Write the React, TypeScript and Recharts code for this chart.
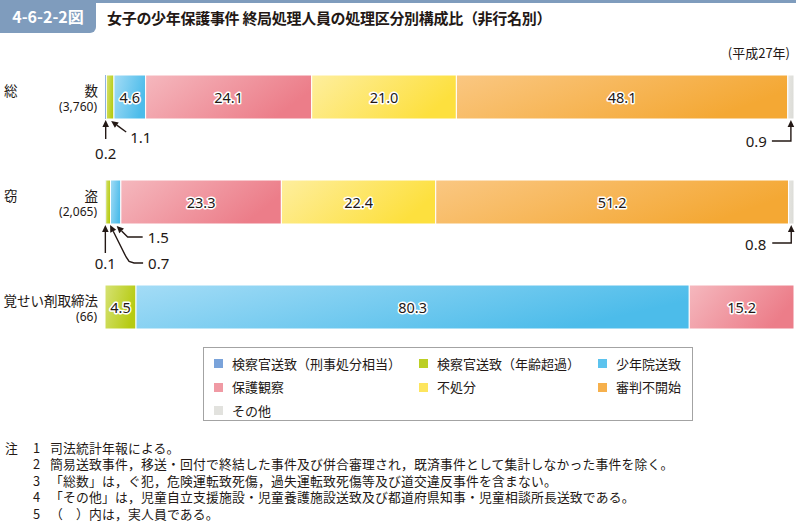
import { BarChart, Bar, XAxis, YAxis, LabelList } from 'recharts';

// rows (non-offence types) and headcounts shown in brackets
const categories = ['総数', '窃盗', '覚せい剤取締法'];
const headcounts = ['3,760', '2,065', '66'];

// composition ratios (%) per disposition, same order as categories
const keiji = [0.2, 0.1, 0];
const nenrei = [1.1, 0.7, 4.5];
const shonenin = [4.6, 1.5, 80.3];
const hogo = [24.1, 23.3, 15.2];
const fushobun = [21.0, 22.4, 0];
const fukaishi = [48.1, 51.2, 0];
const other = [0.9, 0.8, 0];

const notes = [
  '司法統計年報による。',
  '簡易送致事件，移送・回付で終結した事件及び併合審理され，既済事件として集計しなかった事件を除く。',
  '「総数」は，ぐ犯，危険運転致死傷，過失運転致死傷等及び道交違反事件を含まない。',
  '「その他」は，児童自立支援施設・児童養護施設送致及び都道府県知事・児童相談所長送致である。',
  '（　）内は，実人員である。',
];

const series = [
  { key: 'keiji', name: '検察官送致（刑事処分相当）', from: '#8db4e2', to: '#6e9bd6', swatch: '#7aa3da' },
  { key: 'nenrei', name: '検察官送致（年齢超過）', from: '#d6e274', to: '#b6cb12', swatch: '#bccf24' },
  { key: 'shonenin', name: '少年院送致', from: '#a4dcf6', to: '#4cbcea', swatch: '#5cc3ee' },
  { key: 'hogo', name: '保護観察', from: '#f5b8be', to: '#ec7d89', swatch: '#f09aa4' },
  { key: 'fushobun', name: '不処分', from: '#feee9e', to: '#fde03e', swatch: '#fde55e' },
  { key: 'fukaishi', name: '審判不開始', from: '#fac782', to: '#f4a834', swatch: '#f6b04c' },
  { key: 'other', name: 'その他', from: '#e6e6e2', to: '#dcdcd7', swatch: '#e2e2de' },
];

const values: Record<string, number[]> = { keiji, nenrei, shonenin, hogo, fushobun, fukaishi, other };

const data = categories.map((name, i) => {
  const row: Record<string, string | number> = { name };
  series.forEach((s) => (row[s.key] = values[s.key][i]));
  return row;
});

// callouts for the thin segments: points relative to (segment centre, bar bottom), tail -> tip
type Callout = { row: number; key: string; path: number[][]; text: [number, number, 'start' | 'middle' | 'end'] };
const callouts: Callout[] = [
  { row: 0, key: 'keiji', path: [[0, 20], [0, 1]], text: [0, 34, 'middle'] },
  { row: 0, key: 'nenrei', path: [[16, 13], [1, 2]], text: [20, 18, 'start'] },
  { row: 0, key: 'other', path: [[-19, 22], [0, 22], [0, 1]], text: [-24, 21.5, 'end'] },
  { row: 1, key: 'keiji', path: [[0, 29], [0, 1]], text: [0, 39, 'middle'] },
  { row: 1, key: 'nenrei', path: [[35, 39], [26, 39], [21, 37.5], [18, 33], [2, 1]], text: [40, 39, 'start'] },
  { row: 1, key: 'shonenin', path: [[27, 13], [12, 13], [1, 2]], text: [32, 13, 'start'] },
  { row: 1, key: 'other', path: [[-19, 19], [0, 19], [0, 1]], text: [-25, 20, 'end'] },
];

const INK = '#231815';
const JP = '"Noto Sans CJK JP", "Noto Sans", sans-serif';
const NUM = '"Noto Sans", "Open Sans", sans-serif';

function ArrowPath({ pts }: { pts: number[][] }) {
  const [tx, ty] = pts[pts.length - 1];
  const [px, py] = pts[pts.length - 2];
  const len = Math.hypot(tx - px, ty - py) || 1;
  const ux = (tx - px) / len;
  const uy = (ty - py) / len;
  const bx = tx - ux * 7;
  const by = ty - uy * 7;
  const line = [...pts.slice(0, -1), [bx, by]].map((p, i) => `${i ? 'L' : 'M'}${p[0]},${p[1]}`).join(' ');
  return (
    <g>
      <path d={line} fill="none" stroke={INK} strokeWidth={1.4} />
      <polygon points={`${tx},${ty} ${bx - uy * 3.3},${by + ux * 3.3} ${bx + uy * 3.3},${by - ux * 3.3}`} fill={INK} />
    </g>
  );
}

function segmentLabel(props: any, key: string) {
  const x = Number(props.x);
  const y = Number(props.y);
  const w = Number(props.width);
  const h = Number(props.height);
  const value = Number(props.value);
  const index = props.index;
  if (!value) return null;
  const cx = x + w / 2;
  const b = y + h;
  const c = callouts.find((o) => o.row === index && o.key === key);
  if (c) {
    const pts = c.path.map(([dx, dy]) => [cx + dx, b + dy]);
    return (
      <g>
        <ArrowPath pts={pts} />
        <text
          x={cx + c.text[0]}
          y={b + c.text[1]}
          textAnchor={c.text[2]}
          dominantBaseline="central"
          fontFamily={NUM}
          fontSize={15}
          fill={INK}
        >
          {value.toFixed(1)}
        </text>
      </g>
    );
  }
  if (w < 20) return null;
  return (
    <text
      x={cx}
      y={y + h / 2}
      textAnchor="middle"
      dominantBaseline="central"
      fontFamily={NUM}
      fontSize={14.5}
      fill={INK}
      stroke="#fff"
      strokeWidth={3}
      strokeLinejoin="round"
      paintOrder="stroke"
    >
      {value.toFixed(1)}
    </text>
  );
}

function CategoryTick({ y, payload }: any) {
  const name: string = payload.value;
  const i = categories.indexOf(name);
  const top = Number(y) - 7;
  return (
    <g fontFamily={JP} fill={INK}>
      {name.length === 2 ? (
        <>
          <text x={4} y={top} dominantBaseline="central" fontSize={13.5}>{name[0]}</text>
          <text x={98} y={top} textAnchor="end" dominantBaseline="central" fontSize={13.5}>{name[1]}</text>
        </>
      ) : (
        <text x={98} y={top} textAnchor="end" dominantBaseline="central" fontSize={13.5}>{name}</text>
      )}
      <text x={97} y={Number(y) + 10} textAnchor="end" dominantBaseline="central" fontSize={12} fontFamily={NUM}>
        ({headcounts[i]})
      </text>
    </g>
  );
}

export default function App() {
  return (
    <div style={{ position: 'relative', width: 796, height: 522, background: '#fff', overflow: 'hidden', color: INK }}>
      <style>{'body{margin:0}'}</style>

      {/* header */}
      <div style={{ position: 'absolute', left: 0, top: 0, width: 796, height: 3, background: '#7f9cbd' }} />
      <div
        style={{
          position: 'absolute', left: 0, top: 0, width: 96, height: 33, background: '#7f9cbd',
          borderBottomRightRadius: 6, color: '#fff', fontFamily: JP, fontWeight: 700, fontSize: 16,
          lineHeight: '33px', textAlign: 'center',
        }}
      >
        4-6-2-2図
      </div>
      <div style={{ position: 'absolute', left: 107, top: 7, fontFamily: JP, fontWeight: 700, fontSize: 15, lineHeight: '22px', letterSpacing: -0.3 }}>
        女子の少年保護事件 終局処理人員の処理区分別構成比（非行名別）
      </div>
      <div style={{ position: 'absolute', right: 6, top: 44, fontFamily: JP, fontSize: 13, lineHeight: '18px' }}>
        (平成27年)
      </div>

      <div style={{ position: 'absolute', left: 0, top: 0 }}>
        <BarChart
          width={796}
          height={522}
          data={data}
          layout="vertical"
          barSize={44}
          margin={{ top: 44, right: 2, bottom: 163, left: 0 }}
        >
          <defs>
            {series.map((s) => (
              <linearGradient key={s.key} id={`grad-${s.key}`} x1="0" y1="0" x2="1" y2="0.35">
                <stop offset="0%" stopColor={s.from} />
                <stop offset="100%" stopColor={s.to} />
              </linearGradient>
            ))}
          </defs>
          <XAxis type="number" domain={[0, 100]} hide />
          <YAxis
            type="category"
            dataKey="name"
            width={105}
            axisLine={false}
            tickLine={false}
            tick={<CategoryTick />}
          />
          {series.map((s) => (
            <Bar
              key={s.key}
              dataKey={s.key}
              name={s.name}
              stackId="a"
              fill={`url(#grad-${s.key})`}
              stroke={s.key === 'keiji' ? 'none' : '#fff'}
              strokeWidth={1}
              isAnimationActive={false}
            >
              <LabelList dataKey={s.key} content={(p: any) => segmentLabel(p, s.key)} />
            </Bar>
          ))}
        </BarChart>
      </div>

      {/* legend */}
      <div
        style={{
          position: 'absolute', left: 203, top: 347, width: 490, height: 74, border: '1px solid #a3a3a3',
          boxSizing: 'border-box', fontFamily: JP, fontSize: 13,
        }}
      >
        {series.map((s, i) => {
          const col = [0, 1, 2, 0, 1, 2, 0][i];
          const row = Math.floor(i / 3);
          return (
            <div
              key={s.key}
              style={{ position: 'absolute', left: [10, 215, 394][col], top: 6.5 + row * 23.5, height: 18, display: 'flex', alignItems: 'center' }}
            >
              <span style={{ width: 9, height: 9, background: s.swatch, marginRight: 9 }} />
              <span style={{ lineHeight: '18px' }}>{s.name}</span>
            </div>
          );
        })}
      </div>

      {/* notes */}
      <div style={{ position: 'absolute', left: 0, top: 440, fontFamily: JP, fontSize: 12.8, lineHeight: '16.4px' }}>
        {notes.map((n, i) => (
          <div key={i} style={{ position: 'relative', height: 16.4, whiteSpace: 'nowrap' }}>
            {i === 0 && <span style={{ position: 'absolute', left: 5 }}>注</span>}
            <span style={{ position: 'absolute', left: 33 }}>{i + 1}</span>
            <span style={{ position: 'absolute', left: 50, letterSpacing: 0.2 }}>{n}</span>
          </div>
        ))}
      </div>
    </div>
  );
}
